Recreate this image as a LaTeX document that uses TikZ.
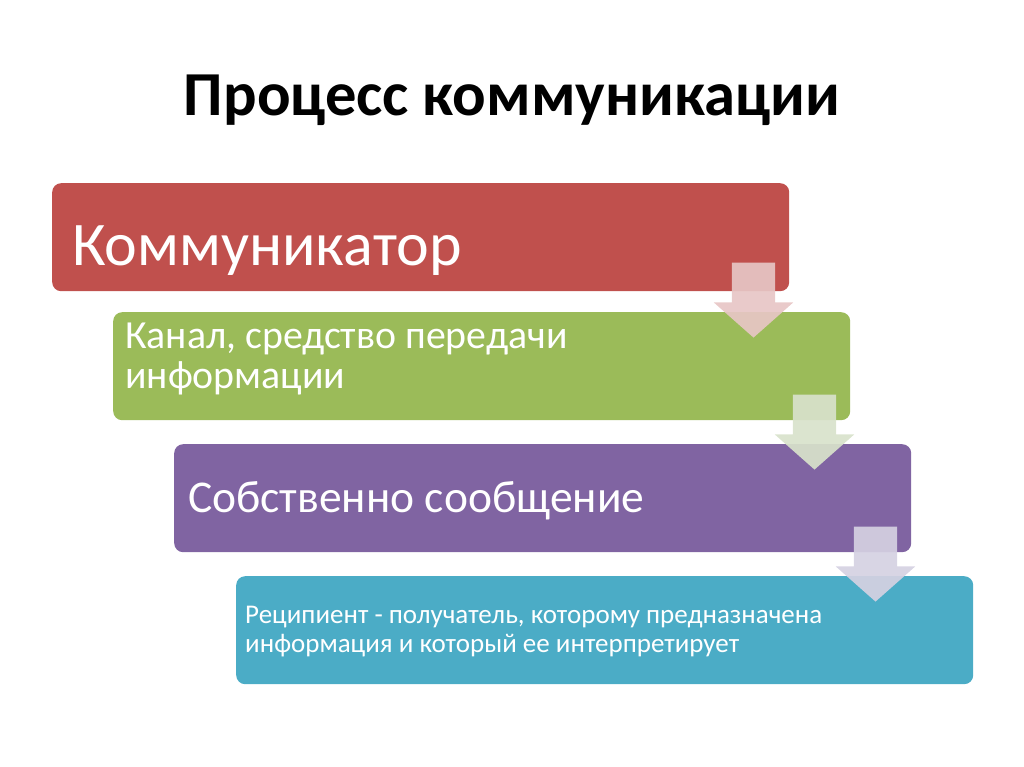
\documentclass[tikz,border=0pt]{standalone}
\usepackage{fontspec}
\setmainfont{Carlito}
\usetikzlibrary{shapes.arrows}

\definecolor{boxred}{HTML}{C0504D}
\definecolor{boxgreen}{HTML}{9BBB59}
\definecolor{boxpurple}{HTML}{8064A2}
\definecolor{boxblue}{HTML}{4BACC6}

\begin{document}
\begin{tikzpicture}[x=1pt,y=-1pt,
  stage/.style={rounded corners=9pt,minimum width=737pt,minimum height=108pt,
    anchor=north west,inner sep=0pt},
  caption/.style={anchor=base west,text=white,align=left,inner sep=0pt},
  down/.style={single arrow,rotate=-90,draw=none,minimum height=75pt,
    minimum width=79pt,inner xsep=0pt,inner ysep=21.5pt,
    single arrow head extend=18pt,single arrow tip angle=97,opacity=0.92}]
\useasboundingbox (0,0) rectangle (1024,767);
\node [font=\fontsize{62.6}{70}\selectfont\bfseries] (title) at (512,100) {Процесс коммуникации};
% ступени
\node [stage,fill=boxred] (a) at (52,183) {};
\node [stage,fill=boxgreen] (b) at (113,312) {};
\node [stage,fill=boxpurple] (c) at (174,444) {};
\node [stage,fill=boxblue] (d) at (236,576) {};
% подписи
\node [caption,font=\fontsize{62}{64}\selectfont] (at) at ([shift={(20,82)}]a.north west)
  {Коммуникатор};
\node [caption,font=\fontsize{39.8}{40}\selectfont] (bt) at ([shift={(12,76)}]b.north west)
  {Канал, средство передачи\\информации};
\node [caption,font=\fontsize{45.5}{48}\selectfont] (ct) at ([shift={(14,68)}]c.north west)
  {Собственно сообщение};
\node [caption,font=\fontsize{27}{29}\selectfont] (dt) at ([shift={(9,76)}]d.north west)
  {Реципиент - получатель, которому предназначена\\информация и который ее интерпретирует};
% стрелки
\node [down,fill={rgb,255:red,231;green,198;blue,197}] (ab) at (753.5,290.5) {};
\node [down,fill={rgb,255:red,216;green,226;blue,203}] (bc) at (814.5,422.5) {};
\node [down,fill={rgb,255:red,213;green,209;blue,226}] (cd) at (875.5,554.5) {};
\end{tikzpicture}
\end{document}
